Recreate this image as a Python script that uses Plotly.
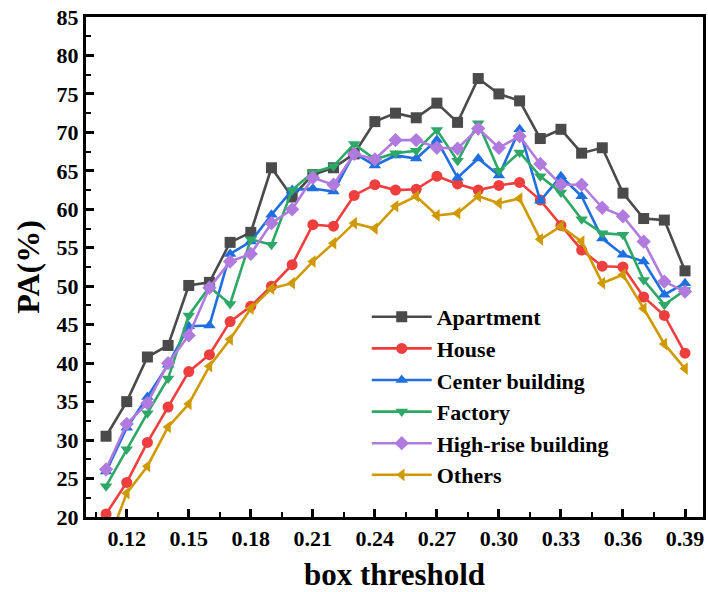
import plotly.graph_objects as go

x_vals = [round(0.11 + 0.01 * i, 2) for i in range(29)]

apartment = [30.5, 35.0, 40.8, 42.3, 50.1, 50.5, 55.7, 57.0, 65.4, 61.6,
             64.5, 65.4, 67.2, 71.4, 72.5, 71.9, 73.8, 71.3, 77.0, 75.0,
             74.1, 69.2, 70.4, 67.3, 68.0, 62.1, 58.8, 58.6, 52.0]
house = [20.4, 24.5, 29.7, 34.3, 38.9, 41.1, 45.4, 47.4, 50.0, 52.8,
         58.0, 57.8, 61.8, 63.2, 62.5, 62.6, 64.3, 63.3, 62.5, 63.1,
         63.5, 61.2, 57.9, 54.7, 52.6, 52.5, 48.6, 46.2, 41.3]
center = [25.9, 31.6, 35.6, 39.8, 44.8, 44.9, 54.2, 55.8, 59.3, 62.5,
          62.7, 62.3, 67.3, 65.7, 67.0, 66.6, 69.0, 64.1, 66.6, 64.4,
          70.4, 61.1, 64.3, 61.7, 56.2, 54.1, 53.2, 48.9, 50.4]
factory = [24.0, 28.8, 33.5, 38.0, 46.2, 49.9, 47.7, 56.1, 55.4, 62.5,
           64.8, 65.6, 68.5, 66.5, 67.3, 67.6, 70.3, 66.3, 71.2, 65.0,
           67.4, 64.3, 62.2, 58.7, 56.9, 56.7, 50.8, 47.6, 49.5]
highrise = [26.2, 32.1, 34.8, 40.0, 43.6, 49.8, 53.2, 54.2, 58.2, 60.0,
            64.1, 63.2, 67.2, 66.5, 69.0, 69.0, 68.0, 67.9, 70.5, 68.0,
            69.5, 65.9, 63.2, 63.2, 60.2, 59.1, 55.8, 50.6, 49.3]
others = [16.0, 23.1, 26.6, 31.7, 34.7, 39.6, 43.1, 47.1, 49.7, 50.4,
          53.2, 55.6, 58.2, 57.5, 60.4, 61.7, 59.2, 59.5, 61.7, 60.8,
          61.4, 56.1, 57.8, 55.8, 50.4, 51.5, 47.1, 42.5, 39.3]

series = [
    ("Apartment", apartment, "#4a4a4a", "square"),
    ("House", house, "#ef3e3e", "circle"),
    ("Center building", center, "#1f6fe0", "triangle-up"),
    ("Factory", factory, "#2ea866", "triangle-down"),
    ("High-rise building", highrise, "#b07ade", "diamond"),
    ("Others", others, "#cf9a00", "triangle-left"),
]

x_tick_vals = [0.12, 0.15, 0.18, 0.21, 0.24, 0.27, 0.30, 0.33, 0.36, 0.39]
x_tick_text = ["0.12", "0.15", "0.18", "0.21", "0.24", "0.27", "0.30", "0.33", "0.36", "0.39"]
y_tick_vals = list(range(20, 90, 5))

fig = go.Figure()
for name, vals, color, sym in series:
    fig.add_trace(go.Scatter(
        x=x_vals, y=vals, name=name, mode="lines+markers",
        line=dict(color=color, width=2.6),
        marker=dict(symbol=sym, size=11, color=color),
        cliponaxis=True,
    ))

font_family = "Liberation Serif"
fig.update_layout(
    width=708, height=592,
    margin=dict(l=86, r=5, t=17, b=75, autoexpand=False),
    plot_bgcolor="white", paper_bgcolor="white",
    font=dict(family=font_family, color="black"),
    showlegend=True,
    legend=dict(
        x=0.455, y=0.442, xanchor="left", yanchor="top",
        bgcolor="rgba(0,0,0,0)",
        font=dict(family=font_family, size=22, color="black", weight="bold"),
        tracegroupgap=0, itemwidth=60,
    ),
)
fig.update_xaxes(
    range=[0.1003, 0.3987],
    tickvals=x_tick_vals, ticktext=x_tick_text,
    ticks="inside", ticklen=8, tickwidth=2.5, tickcolor="black",
    minor=dict(dtick=0.015, tick0=0.105, ticks="inside", ticklen=5, tickwidth=2, tickcolor="black"),
    showline=True, linecolor="black", linewidth=3, mirror=True,
    showgrid=False, zeroline=False, automargin=False,
    ticklabeloverflow="allow",
    tickfont=dict(family=font_family, size=22, color="black", weight="bold"),
    title=dict(text="box threshold", font=dict(family=font_family, size=31, color="black", weight="bold"), standoff=16),
)
fig.update_yaxes(
    range=[20, 85],
    tickvals=y_tick_vals,
    ticks="inside", ticklen=8, tickwidth=2.5, tickcolor="black",
    minor=dict(dtick=2.5, tick0=20, ticks="inside", ticklen=5, tickwidth=2, tickcolor="black"),
    showline=True, linecolor="black", linewidth=3, mirror=True,
    showgrid=False, zeroline=False, automargin=False,
    ticklabeloverflow="allow",
    tickfont=dict(family=font_family, size=22, color="black", weight="bold"),
    title=dict(text="PA(%)", font=dict(family=font_family, size=32, color="black", weight="bold"), standoff=8),
)

fig.write_html(
    "out.html",
    config={"displayModeBar": False},
    post_script="document.body.style.margin='0';document.body.style.overflow='hidden';",
)
